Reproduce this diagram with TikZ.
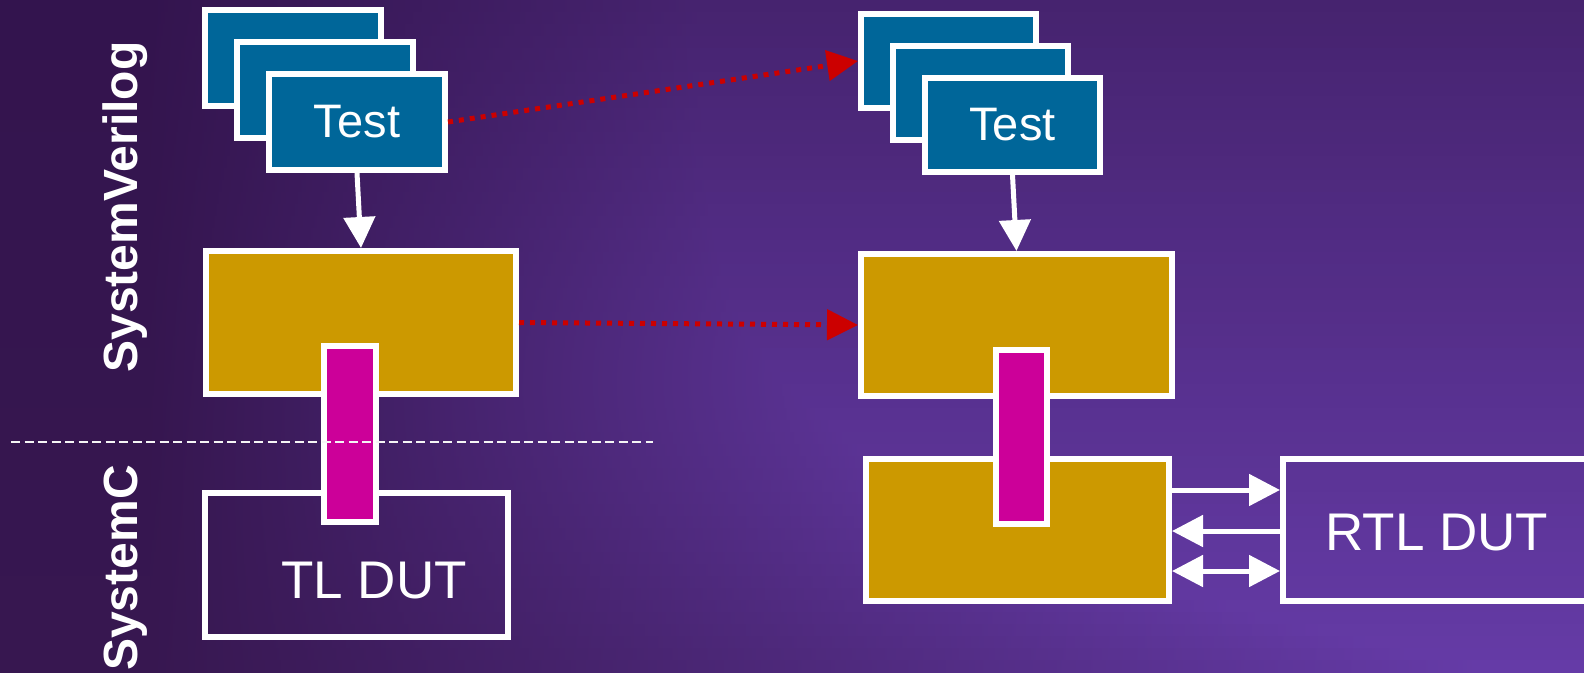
\documentclass[tikz,border=0pt]{standalone}
\usepackage{fontspec}
\setmainfont{Liberation Sans}
\usetikzlibrary{arrows.meta}

\definecolor{bgTL}{HTML}{33144E}
\definecolor{bgBL}{HTML}{371750}
\definecolor{bgTR}{HTML}{46236F}
\definecolor{bgBR}{HTML}{653BA7}
\definecolor{testblue}{HTML}{006699}
\definecolor{gold}{HTML}{CC9900}
\definecolor{magent}{HTML}{CC0099}
\definecolor{darkred}{HTML}{CC0000}

\tikzset{
  framed/.style={draw=white, line width=6pt, inner sep=0pt, anchor=north west},
  testbox/.style={framed, fill=testblue, text=white,
    font=\fontsize{47pt}{56pt}\selectfont},
  goldbox/.style={framed, fill=gold},
  pinbox/.style={framed, fill=magent},
  dutbox/.style={framed},
  dutlabel/.style={text=white, inner sep=0pt, font=\fontsize{53pt}{62pt}\selectfont},
  sidelabel/.style={text=white, inner sep=0pt, rotate=90, anchor=base,
    font=\fontsize{48pt}{57pt}\selectfont\bfseries},
  flow/.style={draw=white, line width=5pt,
    -{Triangle[length=31pt,width=31pt]}},
  flowback/.style={draw=white, line width=5pt,
    {Triangle[length=31pt,width=31pt]}-},
  flowboth/.style={draw=white, line width=5pt,
    {Triangle[length=31pt,width=31pt]}-{Triangle[length=31pt,width=31pt]}},
  mapping/.style={draw=darkred, line width=5pt, dash pattern=on 5pt off 6pt,
    -{Triangle[length=31pt,width=30pt]}},
  divider/.style={draw=white!92!gray, line width=2.5pt, dash pattern=on 9pt off 4.5pt}
}

\begin{document}
\begin{tikzpicture}[x=1pt, y=-1pt]
  \useasboundingbox (0,0) rectangle (1584,672);

  % background: purple gradient, dark at the left, brighter towards the lower right;
  % each strip ramps from the left colour to its right colour, then stays flat
  \begin{scope}
    \clip (0,0) rectangle (1584,672);
    \foreach \i in {0,...,55} {
      \pgfmathsetmacro\t{100*(\i+0.5)/56}
      \pgfmathsetmacro\xe{700+800*((\i+0.5)/56)^4}
      \colorlet{stripL}{bgBL!\t!bgTL}
      \colorlet{stripR}{bgBR!\t!bgTR}
      \fill[stripL] (-1,\i*12) rectangle (151,\i*12+12.6);
      \shade[left color=stripL, right color=stripR]
        (150,\i*12) rectangle (\xe+1,\i*12+12.6);
      \fill[stripR] (\xe,\i*12) rectangle (1585,\i*12+12.6);
    }
  \end{scope}

  % side labels
  \node[sidelabel] (sv) at (137,207) {SystemVerilog};
  \node[sidelabel] (sc) at (137,568) {SystemC};

  % left column: stacked tests
  \node[testbox, minimum width=176pt, minimum height=96pt] (lt1) at (202,7) {};
  \node[testbox, minimum width=176pt, minimum height=96pt] (lt2) at (234,39) {};
  \node[testbox, minimum width=176pt, minimum height=96pt] (lt3) at (266,71) {Test};

  % left column: environment, TL DUT and connector
  \node[goldbox, minimum width=310pt, minimum height=143pt] (lenv) at (203,248) {};
  \node[dutbox, minimum width=303pt, minimum height=144pt] (tldut) at (202,490) {};
  \node[dutlabel] (tltext) at (374,581) {TL DUT};
  \node[pinbox, minimum width=52pt, minimum height=176pt] (lpin) at (321,343) {};

  % right column: stacked tests
  \node[testbox, minimum width=175pt, minimum height=94pt] (rt1) at (858,11) {};
  \node[testbox, minimum width=175pt, minimum height=94pt] (rt2) at (890,43) {};
  \node[testbox, minimum width=175pt, minimum height=94pt] (rt3) at (922,75) {Test};

  % right column: environment, transactor, RTL DUT
  \node[goldbox, minimum width=311pt, minimum height=142pt] (renv) at (858,251) {};
  \node[goldbox, minimum width=303pt, minimum height=142pt] (rxact) at (863,456) {};
  \node[dutbox, minimum width=320pt, minimum height=142pt] (rtldut) at (1280,456) {};
  \node[dutlabel] (rtltext) at (1437,533) {RTL DUT};
  \node[pinbox, minimum width=51pt, minimum height=174pt] (rpin) at (993,347) {};

  % language boundary
  \coordinate (divL) at (11,442);
  \coordinate (divR) at (653,442);
  \draw[divider] (divL) -- (divR);

  % test to environment
  \draw[flow] (lt3.south) -- (lenv.north);
  \draw[flow] (rt3.south) -- (renv.north);

  % reuse mappings
  \draw[mapping] (lt3.east) -- (rt1.west);
  \draw[mapping] (lenv.east) -- (renv.west);

  % pin-level signals
  \draw[flow] ([yshift=40pt]rxact.east) -- ([yshift=40pt]rtldut.west);
  \draw[flowback] ([yshift=-1pt]rxact.east) -- ([yshift=-1pt]rtldut.west);
  \draw[flowboth] ([yshift=-41pt]rxact.east) -- ([yshift=-41pt]rtldut.west);
\end{tikzpicture}
\end{document}
